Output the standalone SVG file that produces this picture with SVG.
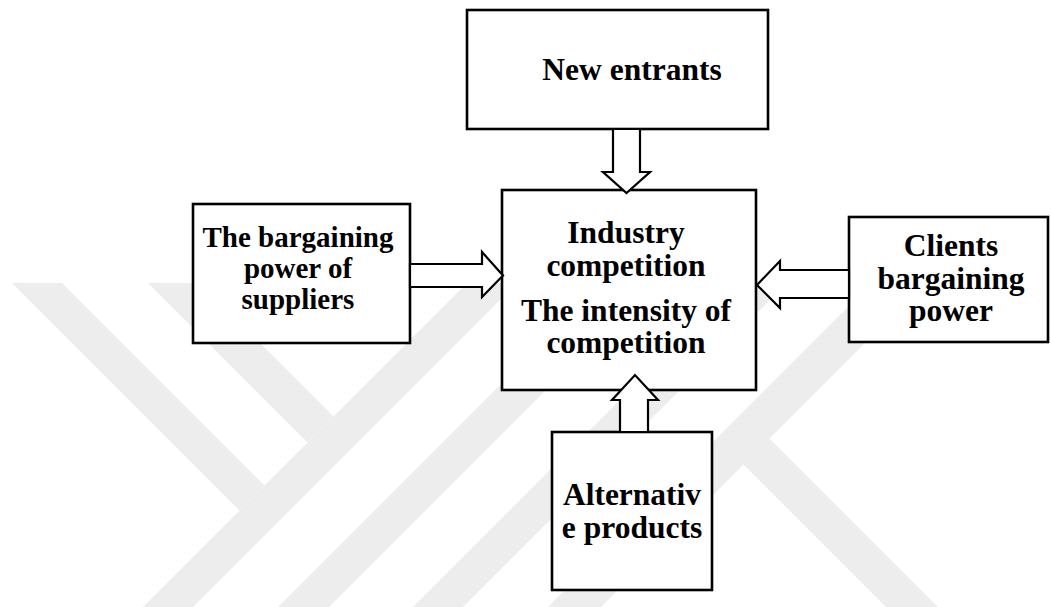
<svg xmlns="http://www.w3.org/2000/svg" width="1051" height="607" viewBox="0 0 1051 607">
  <style>
    .box { fill: #ffffff; stroke: #000000; stroke-width: 2.6; }
    .arrow { fill: #ffffff; stroke: #000000; stroke-width: 2.2; stroke-linejoin: miter; }
    .lbl { font-family: "Liberation Serif", "Times New Roman", serif; font-weight: bold; font-size: 31.5px; fill: #000000; text-anchor: middle; }
    .sm { font-size: 29px; }
    .wm { fill: #ededed; }
  </style>
  <defs>
    <clipPath id="wmclip"><rect x="0" y="283" width="1051" height="324"/></clipPath>
  </defs>
  <rect x="0" y="0" width="1051" height="607" fill="#ffffff"/>
  <g id="watermark" clip-path="url(#wmclip)">
    <polygon class="wm" points="12,283 62,283 264.5,485.5 239.5,510.5"/>
    <polygon class="wm" points="148,283 200,283 333.5,416.5 307.5,442.5"/>
    <polygon class="wm" points="467,283 517,283 193,607 143,607"/>
    <polygon class="wm" points="602,283 653,283 329,607 278,607"/>
    <polygon class="wm" points="737,283 787,283 463,607 413,607"/>
    <polygon class="wm" points="872,283 925,283 601,607 548,607"/>
    <polygon class="wm" points="768.5,437.5 938,607 886,607 742.5,463.5"/>
  </g>
  <g id="node-new-entrants">
    <rect class="box" x="467" y="10" width="301" height="119"/>
    <text class="lbl" x="632" y="80">New entrants</text>
  </g>
  <g id="node-industry">
    <rect class="box" x="502" y="190" width="254" height="200"/>
    <text class="lbl" x="626" y="243">Industry</text>
    <text class="lbl" x="626" y="276">competition</text>
    <text class="lbl" x="626" y="321">The intensity of</text>
    <text class="lbl" x="626" y="353">competition</text>
  </g>
  <g id="node-suppliers">
    <rect class="box" x="193" y="204" width="217" height="139"/>
    <text class="lbl sm" x="298" y="247">The bargaining</text>
    <text class="lbl sm" x="298" y="278">power of</text>
    <text class="lbl sm" x="298" y="309">suppliers</text>
  </g>
  <g id="node-clients">
    <rect class="box" x="849" y="217" width="199" height="125"/>
    <text class="lbl" x="951" y="256">Clients</text>
    <text class="lbl" x="951" y="288.5">bargaining</text>
    <text class="lbl" x="951" y="321">power</text>
  </g>
  <g id="node-alternative">
    <rect class="box" x="552" y="432" width="160" height="158"/>
    <text class="lbl" x="632" y="505">Alternativ</text>
    <text class="lbl" x="632" y="538">e products</text>
  </g>
  <g id="connectors">
    <polygon class="arrow" points="613,129 640,129 640,172 650,172 626.5,193 603,172 613,172"/>
    <polygon class="arrow" points="410,264 482,264 482,252 503,275.5 482,297 482,287 410,287"/>
    <polygon class="arrow" points="849,270 780,270 780,261 757,285 780,308 780,298 849,298"/>
    <polygon class="arrow" points="620,432 620,400 612,400 635,375 658,400 648,400 648,432"/>
  </g>
</svg>
